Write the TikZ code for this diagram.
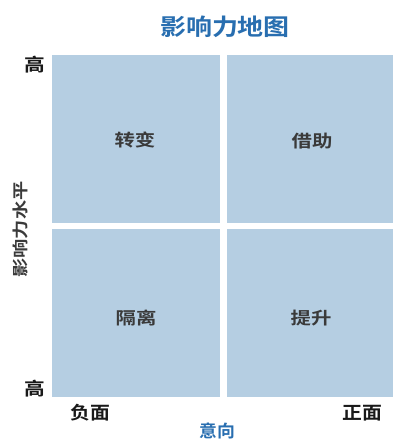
\documentclass[tikz,border=0pt]{standalone}
\usepackage{fontspec}
\usepackage{graphicx}
\newfontfamily\cjk{Noto Sans CJK SC Bold}
\definecolor{quad}{RGB}{181,206,226}
\definecolor{ttl}{RGB}{40,110,176}
\definecolor{lbl}{RGB}{58,58,58}
\newcommand{\wide}[2]{\scalebox{#1}[1]{#2}}
\begin{document}
\begin{tikzpicture}[x=1pt,y=-1pt,
  quadbox/.style={fill=quad,draw=none},
  qlabel/.style={font=\cjk\fontsize{17}{17}\selectfont,text=lbl,inner sep=0pt},
  axlabel/.style={font=\cjk\fontsize{18}{18}\selectfont,text=black!90,inner sep=0pt}]
\useasboundingbox (0,0) rectangle (393,440);
\fill[quadbox] (52,55) rectangle (220,223);
\fill[quadbox] (227,55) rectangle (393,223);
\fill[quadbox] (52,229) rectangle (220,397);
\fill[quadbox] (227,229) rectangle (393,397);
\node[font=\cjk\fontsize{23}{23}\selectfont,text=ttl,inner sep=0pt] (title) at (225,26.5) {\wide{1.13}{影响力地图}};
\node[qlabel] (q1) at (135,140) {\wide{1.2}{转变}};
\node[qlabel] (q2) at (312,141) {\wide{1.2}{借助}};
\node[qlabel] (q3) at (136,318) {\wide{1.2}{隔离}};
\node[qlabel] (q4) at (311,318) {\wide{1.2}{提升}};
\node[axlabel] (hi1) at (35,65) {\wide{1.15}{高}};
\node[axlabel] (hi2) at (35,389) {\wide{1.15}{高}};
\node[axlabel] (neg) at (90,413) {\wide{1.1}{负面}};
\node[axlabel] (pos) at (362,413) {\wide{1.1}{正面}};
\node[font=\cjk\fontsize{17}{17}\selectfont,text=ttl,inner sep=0pt] (xax) at (217,431) {\wide{1.05}{意向}};
\node[font=\cjk\fontsize{16}{16}\selectfont,text=lbl,rotate=90,inner sep=0pt] (yax) at (20.5,229.5) {\wide{1.2}{影响力水平}};
\end{tikzpicture}
\end{document}
